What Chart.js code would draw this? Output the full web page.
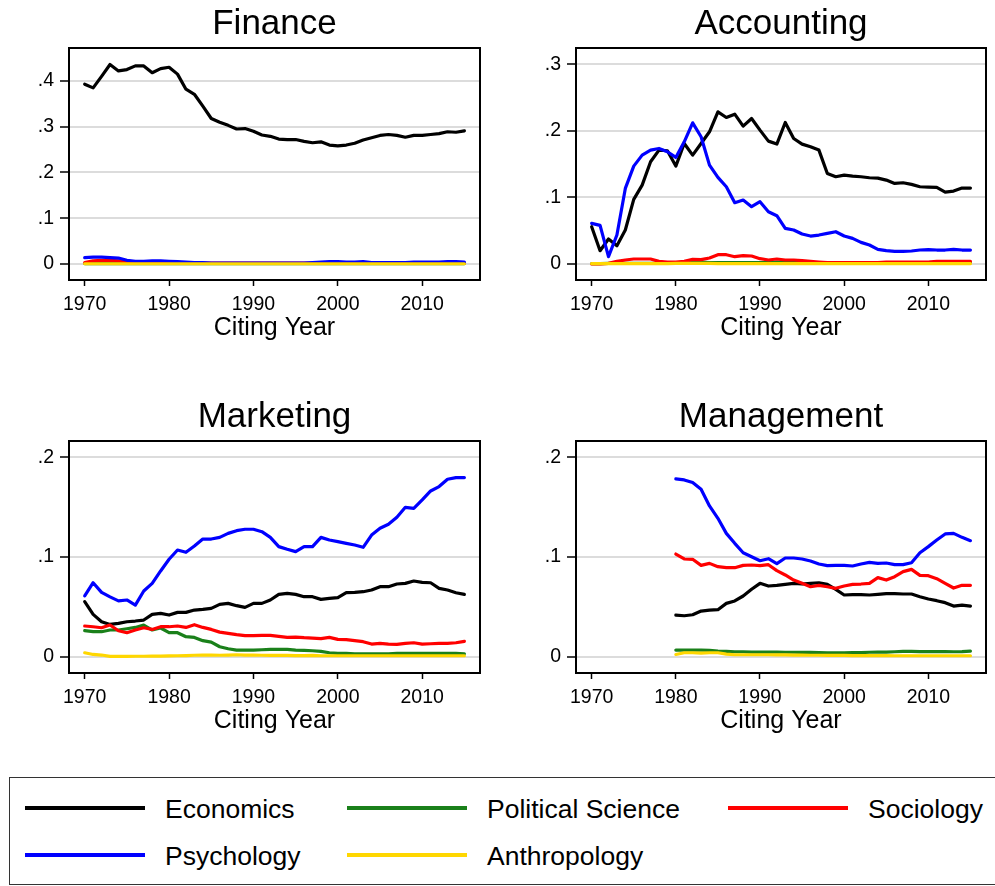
<!DOCTYPE html>
<html>
<head>
<meta charset="utf-8">
<script src="https://cdn.jsdelivr.net/npm/chart.js@4.4.1/dist/chart.umd.min.js"></script>
<style>
  body { margin: 0; background: #fff; }
  #page { position: relative; width: 995px; height: 886px; overflow: hidden; font-family: 'Liberation Sans', Arial, Helvetica, sans-serif; }
  canvas { position: absolute; }
  #legendBox { position: absolute; left: 9px; top: 777px; width: 1000px; height: 108px; border: 1.5px solid #333; box-sizing: border-box; }
  .swatch { position: absolute; width: 120px; height: 4px; }
  .lab { position: absolute; font-size: 26.5px; line-height: 30px; color: #000; white-space: nowrap; }
</style>
</head>
<body>
<div id="page">
  <canvas id="finance" width="495" height="345" style="left:0;top:0"></canvas>
  <canvas id="accounting" width="500" height="345" style="left:495px;top:0"></canvas>
  <canvas id="marketing" width="495" height="345" style="left:0;top:393px"></canvas>
  <canvas id="management" width="500" height="345" style="left:495px;top:393px"></canvas>
  <div id="legendBox"></div>
</div>
<script>
const years = [1970,1971,1972,1973,1974,1975,1976,1977,1978,1979,
  1980,1981,1982,1983,1984,1985,1986,1987,1988,1989,
  1990,1991,1992,1993,1994,1995,1996,1997,1998,1999,
  2000,2001,2002,2003,2004,2005,2006,2007,2008,2009,
  2010,2011,2012,2013,2014,2015];
const xTicks = [1970, 1980, 1990, 2000, 2010];
const fields = ['Economics', 'Political Science', 'Sociology', 'Psychology', 'Anthropology'];
const colors = ['#000000', '#1a801a', '#ff0000', '#0000ff', '#ffd700'];

// Finance
const finEcon = [0.393,0.385,0.41,0.436,0.422,0.425,0.433,0.433,0.418,0.427,
  0.43,0.415,0.382,0.371,0.345,0.318,0.31,0.303,0.295,0.296,
  0.29,0.282,0.279,0.273,0.272,0.272,0.268,0.265,0.267,0.26,
  0.258,0.26,0.264,0.271,0.276,0.281,0.283,0.281,0.277,0.281,
  0.281,0.283,0.285,0.289,0.288,0.291];
const finPolsci = [0.001,0.001,0.001,0.001,0.001,0.001,0.001,0.001,0.001,0.001,
  0.001,0.001,0.001,0.001,0.001,0.001,0.001,0.001,0.001,0.001,
  0.001,0.001,0.001,0.001,0.001,0.001,0.001,0.001,0.001,0.001,
  0.001,0.001,0.001,0.001,0.001,0.001,0.001,0.001,0.001,0.001,
  0.001,0.001,0.001,0.001,0.001,0.001];
const finSoc = [0.003,0.007,0.008,0.008,0.007,0.005,0.003,0.003,0.003,0.003,
  0.003,0.002,0.002,0.002,0.002,0.002,0.002,0.002,0.002,0.002,
  0.002,0.002,0.002,0.002,0.002,0.002,0.002,0.002,0.002,0.002,
  0.002,0.002,0.002,0.002,0.002,0.002,0.002,0.002,0.002,0.002,
  0.002,0.002,0.002,0.002,0.002,0.002];
const finPsych = [0.014,0.015,0.015,0.014,0.013,0.008,0.006,0.006,0.007,0.007,
  0.006,0.005,0.004,0.003,0.003,0.002,0.002,0.002,0.002,0.002,
  0.002,0.002,0.002,0.002,0.002,0.002,0.002,0.003,0.004,0.005,
  0.005,0.004,0.004,0.005,0.003,0.003,0.003,0.003,0.003,0.004,
  0.004,0.004,0.004,0.005,0.005,0.004];
const finAnthro = [0.0005,0.0005,0.0005,0.0005,0.0005,0.0005,0.0005,0.0005,0.0005,0.0005,
  0.0005,0.0005,0.0005,0.0005,0.0005,0.0005,0.0005,0.0005,0.0005,0.0005,
  0.0005,0.0005,0.0005,0.0005,0.0005,0.0005,0.0005,0.0005,0.0005,0.0005,
  0.0005,0.0005,0.0005,0.0005,0.0005,0.0005,0.0005,0.0005,0.0005,0.0005,
  0.0005,0.0005,0.0005,0.0005,0.0005,0.0005];

// Accounting
const accEcon = [0.056,0.02,0.0375,0.0275,0.051,0.097,0.1185,0.1535,0.171,0.17,
  0.147,0.181,0.1635,0.181,0.1985,0.2285,0.22,0.225,0.207,0.2185,
  0.201,0.1845,0.18,0.2125,0.1885,0.18,0.176,0.171,0.136,0.131,
  0.1335,0.132,0.131,0.1295,0.129,0.126,0.121,0.122,0.1195,0.116,
  0.1155,0.115,0.108,0.1095,0.114,0.114];
const accPolsci = [0.0005,0.0005,0.001,0.001,0.001,0.001,0.001,0.001,0.001,0.001,
  0.002,0.002,0.003,0.003,0.002,0.002,0.002,0.002,0.002,0.002,
  0.002,0.002,0.003,0.003,0.003,0.002,0.002,0.002,0.002,0.002,
  0.002,0.002,0.002,0.002,0.002,0.002,0.002,0.002,0.002,0.002,
  0.002,0.003,0.003,0.003,0.003,0.003];
const accSoc = [0,0,0.001,0.004,0.006,0.0075,0.0075,0.0075,0.004,0.003,
  0.003,0.004,0.007,0.0065,0.009,0.014,0.014,0.011,0.0125,0.012,
  0.008,0.006,0.0075,0.006,0.006,0.005,0.004,0.003,0.002,0.002,
  0.002,0.002,0.002,0.002,0.002,0.003,0.003,0.003,0.003,0.003,
  0.003,0.004,0.004,0.004,0.004,0.004];
const accPsych = [0.061,0.058,0.011,0.0435,0.1135,0.147,0.1635,0.171,0.1735,0.1685,
  0.16,0.1835,0.212,0.191,0.1485,0.13,0.116,0.092,0.096,0.086,
  0.0935,0.0785,0.0725,0.0535,0.051,0.045,0.042,0.0435,0.046,0.0485,
  0.042,0.0385,0.0325,0.0285,0.022,0.02,0.019,0.019,0.0195,0.021,
  0.0215,0.021,0.021,0.022,0.021,0.021];
const accAnthro = [0.0005,0.0005,0.0005,0.0005,0.0005,0.0005,0.0005,0.0005,0.0005,0.0005,
  0.001,0.001,0.001,0.001,0.001,0.0005,0.0005,0.0005,0.0005,0.0005,
  0.0005,0.0005,0.0005,0.0005,0.0005,0.0005,0.0005,0.0005,0.0005,0.0005,
  0.0005,0.0005,0.0005,0.0005,0.0005,0.0005,0.0005,0.0005,0.0005,0.0005,
  0.0005,0.0005,0.0005,0.0005,0.0005,0.0005];

// Marketing
const mktEcon = [0.0552,0.0425,0.0351,0.0324,0.0334,0.0351,0.0358,0.0368,0.0425,0.0435,
  0.0418,0.0445,0.0445,0.0468,0.0475,0.0485,0.0525,0.0535,0.0512,0.0495,
  0.0535,0.0535,0.0569,0.0625,0.0635,0.0625,0.0602,0.0602,0.0575,0.0585,
  0.0592,0.0642,0.0645,0.0652,0.0669,0.0702,0.0702,0.0729,0.0736,0.0759,
  0.0746,0.0742,0.0686,0.0669,0.0642,0.0625];
const mktPolsci = [0.0261,0.0251,0.0251,0.0268,0.0268,0.0281,0.0294,0.0318,0.0268,0.0288,
  0.0241,0.0241,0.0201,0.0194,0.0161,0.0147,0.01,0.008,0.0067,0.0067,
  0.0067,0.007,0.0074,0.0074,0.0074,0.0067,0.0064,0.006,0.0054,0.004,
  0.0033,0.0033,0.003,0.003,0.003,0.003,0.003,0.0033,0.0033,0.0035,
  0.0033,0.0033,0.0033,0.0033,0.0033,0.003];
const mktSoc = [0.0308,0.0301,0.0291,0.0318,0.0261,0.0241,0.0268,0.0291,0.0274,0.0301,
  0.0301,0.0308,0.0294,0.0321,0.0294,0.0274,0.0247,0.0234,0.0221,0.0211,
  0.0211,0.0214,0.0214,0.0204,0.0194,0.0197,0.0191,0.0187,0.0181,0.0194,
  0.0174,0.0171,0.0161,0.0151,0.0127,0.0134,0.0127,0.0124,0.0134,0.014,
  0.0127,0.013,0.0134,0.0134,0.014,0.0154];
const mktPsych = [0.061,0.0742,0.0645,0.06,0.056,0.0569,0.0518,0.0659,0.0736,0.086,
  0.0977,0.107,0.1047,0.111,0.118,0.118,0.1197,0.1237,0.1264,0.1278,
  0.1278,0.1254,0.1197,0.1104,0.1077,0.1054,0.1104,0.1104,0.1197,0.117,
  0.1154,0.1137,0.112,0.1097,0.122,0.1288,0.1328,0.1398,0.1498,0.1488,
  0.1572,0.1662,0.1706,0.1779,0.1796,0.1796];
const mktAnthro = [0.004,0.0023,0.0017,0.0003,0.0004,0.0004,0.0005,0.0005,0.0006,0.0007,
  0.0008,0.001,0.0012,0.0015,0.0017,0.0017,0.0015,0.0017,0.002,0.0017,
  0.0017,0.0015,0.0013,0.0015,0.0013,0.0012,0.0012,0.0013,0.001,0.001,
  0.001,0.001,0.001,0.001,0.001,0.001,0.001,0.001,0.001,0.001,
  0.001,0.001,0.001,0.001,0.001,0.001];

// Management (no data before 1980)
const mgtEcon = [null,null,null,null,null,null,null,null,null,null,
  0.0418,0.0411,0.0421,0.0458,0.0468,0.0472,0.0535,0.0559,0.0609,0.0676,
  0.0736,0.0709,0.0716,0.0726,0.0736,0.0729,0.0736,0.0742,0.0726,0.0676,
  0.0619,0.0622,0.0622,0.0619,0.0625,0.0632,0.0632,0.0629,0.0629,0.0602,
  0.0579,0.0562,0.0542,0.0508,0.0518,0.0508];
const mgtPolsci = [null,null,null,null,null,null,null,null,null,null,
  0.0067,0.0067,0.0067,0.0067,0.0064,0.0057,0.0054,0.005,0.005,0.0047,
  0.0047,0.0047,0.0047,0.0045,0.0045,0.0044,0.0044,0.0042,0.004,0.004,
  0.004,0.0042,0.0042,0.0045,0.0047,0.0047,0.005,0.0054,0.0054,0.0052,
  0.0052,0.0052,0.0052,0.005,0.0052,0.0057];
const mgtSoc = [null,null,null,null,null,null,null,null,null,null,
  0.103,0.098,0.0977,0.0916,0.0936,0.0903,0.0893,0.0893,0.0916,0.092,
  0.0913,0.0923,0.0863,0.082,0.0769,0.0736,0.0702,0.0716,0.0702,0.0686,
  0.0709,0.0726,0.0729,0.0736,0.0793,0.0769,0.0803,0.0853,0.0876,0.0816,
  0.0813,0.0783,0.0736,0.0689,0.0716,0.0716];
const mgtPsych = [null,null,null,null,null,null,null,null,null,null,
  0.1783,0.1773,0.1746,0.1679,0.1512,0.1388,0.1237,0.1137,0.1043,0.1003,
  0.0963,0.0983,0.0933,0.099,0.099,0.098,0.096,0.093,0.0913,0.0916,
  0.0916,0.091,0.093,0.0946,0.0936,0.094,0.0923,0.0923,0.0943,0.1043,
  0.1104,0.117,0.1231,0.1237,0.1197,0.1164];
const mgtAnthro = [null,null,null,null,null,null,null,null,null,null,
  0.0023,0.004,0.004,0.0037,0.004,0.004,0.0027,0.002,0.002,0.002,
  0.002,0.002,0.0018,0.0018,0.0017,0.0017,0.0015,0.0015,0.0013,0.0013,
  0.0013,0.0012,0.0012,0.0012,0.0011,0.0011,0.001,0.001,0.001,0.001,
  0.001,0.001,0.001,0.001,0.001,0.001];

const finTicks = [0, 0.1, 0.2, 0.3, 0.4];
const accTicks = [0, 0.1, 0.2, 0.3];
const mktTicks = [0, 0.1, 0.2];
const mgtTicks = [0, 0.1, 0.2];

const FONT = "'Liberation Sans', Arial, Helvetica, sans-serif";
// stacking: anthropology on top, economics at the back
const drawOrder = [4, 3, 2, 1, 0];

// frame around the plot region
const framePlugin = {
  id: 'frame',
  afterDraw(chart) {
    const a = chart.chartArea;
    const ctx = chart.ctx;
    ctx.save();
    ctx.strokeStyle = '#000';
    ctx.lineWidth = 2;
    ctx.strokeRect(a.left, a.top, a.right - a.left, a.bottom - a.top);
    ctx.restore();
  }
};

function fmtY(v) {
  return v === 0 ? '0' : v.toFixed(1).replace(/^0/, '');
}

function drawPanel(canvasID, title, series, yMin, yMax, yTicks, yWidth, padRight) {
  const ctx = document.getElementById(canvasID).getContext('2d');
  const datasets = series.map((vals, i) => ({
    label: fields[i],
    data: years.map((yr, j) => ({ x: yr, y: vals[j] })),
    borderColor: colors[i],
    backgroundColor: colors[i],
    borderWidth: 3.2,
    pointRadius: 0,
    tension: 0,
    borderJoinStyle: 'round',
    borderCapStyle: 'round',
    fill: false,
    order: drawOrder[i]
  }));

  new Chart(ctx, {
    type: 'line',
    data: { datasets: datasets },
    options: {
      responsive: false,
      animation: false,
      devicePixelRatio: 1,
      layout: { padding: { left: 0, right: padRight, top: 0, bottom: 0 } },
      plugins: {
        legend: { display: false },
        tooltip: { enabled: false },
        title: {
          display: true,
          text: title,
          fullSize: false,
          color: '#000',
          font: { family: FONT, size: 35, weight: 'normal' },
          padding: { top: 3.5, bottom: 2.5 }
        }
      },
      scales: {
        x: {
          type: 'linear',
          min: 1968.14,
          max: 2016.85,
          afterBuildTicks: s => { s.ticks = xTicks.map(v => ({ value: v })); },
          afterFit: s => { s.height = 65; },
          border: { display: false },
          grid: { drawOnChartArea: false, drawTicks: true, tickLength: 6, tickColor: '#000', tickWidth: 1.5 },
          ticks: { color: '#000', padding: 7.3, maxRotation: 0, font: { family: FONT, size: 19.5 }, callback: v => String(v) },
          title: { display: true, text: 'Citing Year', color: '#000', font: { family: FONT, size: 25 }, padding: { top: 0, bottom: 2 } }
        },
        y: {
          type: 'linear',
          min: yMin,
          max: yMax,
          afterBuildTicks: s => { s.ticks = yTicks.map(v => ({ value: v })); },
          afterFit: s => { s.width = yWidth; },
          border: { display: false },
          grid: { color: '#dcdcdc', lineWidth: 2, drawTicks: true, tickLength: 9, tickColor: '#000', tickWidth: 1.5 },
          ticks: { color: '#000', padding: 6, font: { family: FONT, size: 19.5 }, callback: v => fmtY(v) }
        }
      }
    },
    plugins: [framePlugin]
  });
}

drawPanel('finance', 'Finance', [finEcon, finPolsci, finSoc, finPsych, finAnthro], -0.035, 0.4721, finTicks, 69, 15);
drawPanel('accounting', 'Accounting', [accEcon, accPolsci, accSoc, accPsych, accAnthro], -0.024, 0.3243, accTicks, 81, 9);
drawPanel('marketing', 'Marketing', [mktEcon, mktPolsci, mktSoc, mktPsych, mktAnthro], -0.0163, 0.2163, mktTicks, 69, 15);
drawPanel('management', 'Management', [mgtEcon, mgtPolsci, mgtSoc, mgtPsych, mgtAnthro], -0.0163, 0.2163, mgtTicks, 81, 9);

// legend (two rows, three columns, same order as the original)
const legendCols = [25, 347, 728];
const legendRows = [808, 855];
const page = document.getElementById('page');
fields.forEach((name, i) => {
  const col = i % 3, row = Math.floor(i / 3);
  const sw = document.createElement('div');
  sw.className = 'swatch';
  sw.style.left = legendCols[col] + 'px';
  sw.style.top = (legendRows[row] - 2) + 'px';
  sw.style.background = colors[i];
  page.appendChild(sw);
  const lab = document.createElement('div');
  lab.className = 'lab';
  lab.style.left = (legendCols[col] + 140) + 'px';
  lab.style.top = (legendRows[row] - 14) + 'px';
  lab.textContent = name;
  page.appendChild(lab);
});
</script>
</body>
</html>
